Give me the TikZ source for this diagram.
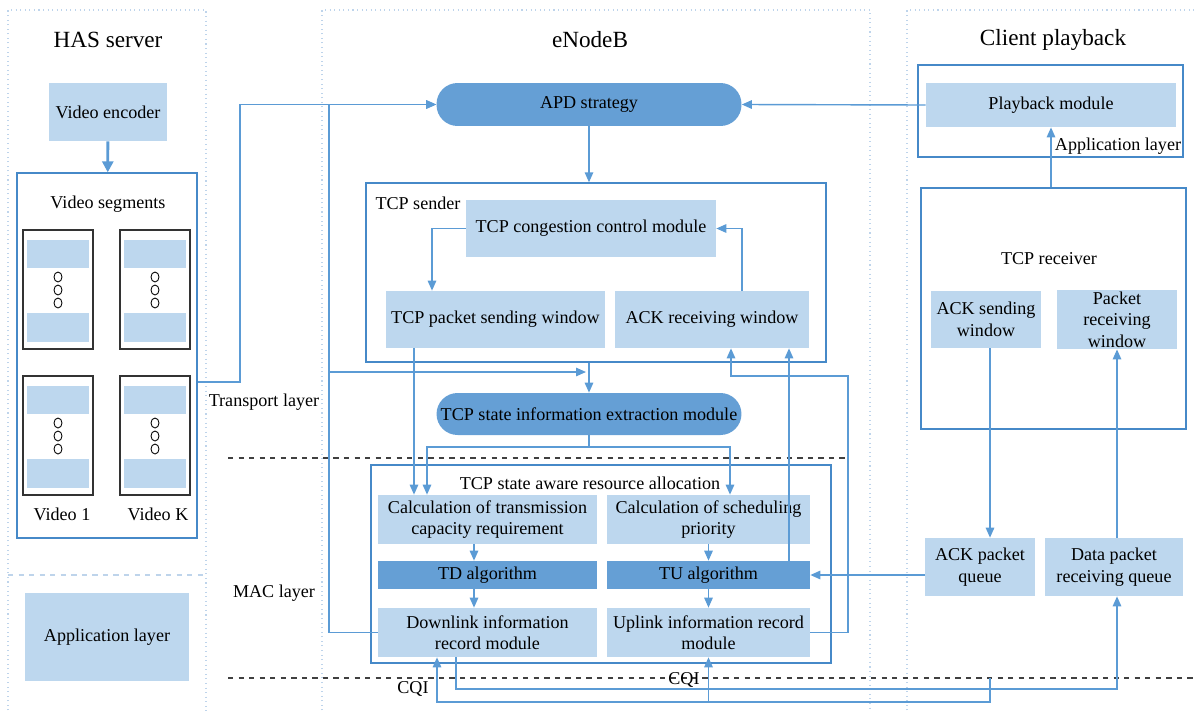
\documentclass[tikz,border=0pt]{standalone}
\usepackage{fontspec}
\setmainfont{Liberation Serif}
\usepackage{tikz}
\usetikzlibrary{arrows.meta}
\usetikzlibrary{calc}
\definecolor{lightfill}{RGB}{189,215,238}
\definecolor{darkfill}{RGB}{101,159,213}
\definecolor{lineblue}{RGB}{91,155,213}
\definecolor{framecol}{RGB}{70,137,200}
\definecolor{panelcol}{RGB}{190,212,235}

\begin{document}
\begin{tikzpicture}[x=0.02cm,y=-0.02cm,
every node/.style={font=\fontsize{10.3}{12.2}\selectfont},
ttl/.style={font=\fontsize{13.2}{15}\selectfont},
lb/.style={fill=lightfill,align=center,inner sep=1pt},
db/.style={fill=darkfill,align=center,inner sep=1pt},
pill/.style={db,rounded corners=0.42cm},
frm/.style={draw=framecol,line width=0.8pt,inner sep=0pt},
panel/.style={draw=panelcol,dotted,line width=0.6pt},
arr/.style={draw=lineblue,line width=0.8pt,-{Triangle[length=0.2cm,width=0.17cm]}},
lin/.style={draw=lineblue,line width=0.8pt}]
\useasboundingbox (0,0) rectangle (1196,710);

% panels
\draw[panel] (8,715) -- (8,10) -- (206,10) -- (206,715);
\draw[panel,dashed] (8,575) -- (206,575);
\draw[panel] (322,715) -- (322,10) -- (870,10) -- (870,715);
\draw[panel] (907,715) -- (907,10) -- (1200,10);
\node (hastitle) at (108,40) [ttl] {HAS server};
\node (enbtitle) at (590,40) [ttl] {eNodeB};
\node (clititle) at (1053,40) [ttl] {Client playback};

% HAS server
\node (venc) at (108,112) [lb,minimum width=2.36cm,minimum height=1.16cm] {Video encoder};
\node (vseg) at (107,355.5) [frm,minimum width=3.6cm,minimum height=7.3cm] {};
\node (vsegl) at (108,204) {Video segments};
\foreach \vx/\vy in {23/230,120/230,23/376,120/376} {
\draw[black!80,line width=0.6pt] (\vx,\vy) rectangle ++(70,119);
\fill[lightfill] (\vx+4,\vy+10) rectangle ++(62,28);
\fill[lightfill] (\vx+4,\vy+83) rectangle ++(62,29);
\foreach \cy in {47,60,73}
\draw[line width=0.5pt] (\vx+35,\vy+\cy) ellipse [x radius=0.08cm,y radius=0.1cm];
}
\node (v1) at (62,514) {Video 1};
\node (vk) at (158,514) {Video K};
\node (applft) at (107,637) [lb,minimum width=3.28cm,minimum height=1.76cm] {Application layer};
\draw[-{Triangle[length=0.22cm,width=0.22cm]},draw=lineblue,line width=1.6pt] (venc) -- (vseg);

% eNodeB
\node (apd) at (589,104.5) [pill,minimum width=6.1cm,minimum height=0.86cm] {APD strategy};
\node (sender) at (596,272.5) [frm,minimum width=9.2cm,minimum height=3.58cm] {};
\node (senderl) at (418,203) {TCP sender};
\node (cong) at (591,228.5) [lb,minimum width=5cm,minimum height=1.14cm] {TCP congestion control module};
\node (pack) at (495.5,319.5) [lb,minimum width=4.38cm,minimum height=1.14cm] {TCP packet sending window};
\node (ackr) at (712,319.5) [lb,minimum width=3.88cm,minimum height=1.14cm] {ACK receiving window};
\node (ext) at (589,414) [pill,minimum width=6.1cm,minimum height=0.84cm] {TCP state information extraction module};
\node (alloc) at (601,564) [frm,minimum width=9.2cm,minimum height=3.96cm] {};
\node (allocl) at (590,483) {TCP state aware resource allocation};
\node (calct) at (487.5,519.5) [lb,minimum width=4.38cm,minimum height=0.98cm] {Calculation of transmission\\capacity requirement};
\node (calcs) at (708.5,519.5) [lb,minimum width=4.06cm,minimum height=0.98cm] {Calculation of scheduling\\priority};
\node (td) at (487.5,575) [db,minimum width=4.38cm,minimum height=0.56cm] {TD algorithm};
\node (tu) at (708.5,575) [db,minimum width=4.06cm,minimum height=0.56cm] {TU algorithm};
\node (dl) at (487.5,632.5) [lb,minimum width=4.38cm,minimum height=0.98cm] {Downlink information\\record module};
\node (ul) at (708.5,632.5) [lb,minimum width=4.06cm,minimum height=0.98cm] {Uplink information record\\module};

% client playback
\node (appr) at (1050.5,111) [frm,minimum width=5.3cm,minimum height=1.84cm] {};
\node (play) at (1051,105) [lb,minimum width=5cm,minimum height=0.88cm] {Playback module};
\node (apprl) at (1118,146) {Application layer};
\node (recv) at (1053.5,308.5) [frm,minimum width=5.3cm,minimum height=4.82cm] {};
\node (recvl) at (1049,259) {TCP receiver};
\node (acks) at (986,319.5) [lb,minimum width=2.2cm,minimum height=1.14cm] {ACK sending\\window};
\node (pktr) at (1117,319.5) [lb,minimum width=2.4cm,minimum height=1.14cm] {Packet\\receiving\\window};
\node (ackq) at (980,567) [lb,minimum width=2.2cm,minimum height=1.16cm] {ACK packet\\queue};
\node (dataq) at (1114,567) [lb,minimum width=2.76cm,minimum height=1.16cm] {Data packet\\receiving queue};

% layer lines
\draw[dashed,black!75,line width=0.6pt] (228,458) -- (845,458);
\draw[dashed,black!75,line width=0.6pt] (228,678) -- (1196,678);
\node (tl) at (264,402) {Transport layer};
\node (ml) at (274,593) {MAC layer};
\node (cqia) at (413,689) {CQI};
\node (cqib) at (684,680) {CQI};
\coordinate (ein) at (586,372);
\coordinate (cqi) at (990,678);

% connectors
\draw[arr] (vseg.east |- 0,382) -- (240,382) |- (apd.west);
\draw[arr] (dl.west) -| (329,104.5) -- (apd.west);
\draw[arr] (329,372) -- (ein);
\draw[arr] (play.west) -- (apd.east);
\draw[arr] (apd.south) -- (apd.south |- sender.north);
\draw[arr] (cong.west) -| (pack.north -| 432,0);
\draw[arr] (ackr.north -| 742,0) |- (cong.east);
\draw[arr] (ext.north |- sender.south) -- (ext.north);
\draw[arr] (pack.south -| 414,0) -- (calct.north -| 414,0);
\draw[lin] (ext.south) -- (589,447);
\draw[arr] (589,447) -| (calct.north -| 427,0);
\draw[arr] (589,447) -| (calcs.north -| 730,0);
\draw[arr] (calct.south -| 474,0) -- (td.north -| 474,0);
\draw[arr] (td.south -| 474,0) -- (dl.north -| 474,0);
\draw[arr] (calcs) -- (tu);
\draw[arr] (tu) -- (ul);
\draw[arr] (tu.north -| 789,0) -- (ackr.south -| 789,0);
\draw[arr] (ul.east) -| (848,376) -| (ackr.south -| 731,0);
\draw[arr] (ackq.west |- tu.east) -- (tu.east);
\draw[arr] (play.south |- recv.north) -- (play.south);
\draw[arr] (acks.south -| 990,0) -- (ackq.north -| 990,0);
\draw[arr] (dataq.north -| 1117,0) -- (pktr.south -| 1117,0);
\draw[arr] (dl.south -| 456,0) -- (456,689) -| (dataq.south -| 1117,0);
\draw[arr] (cqi) -- (990,702) -| (dl.south -| 437,0);
\draw[arr] (ul.south |- 0,702) -- (ul.south);
\end{tikzpicture}
\end{document}
